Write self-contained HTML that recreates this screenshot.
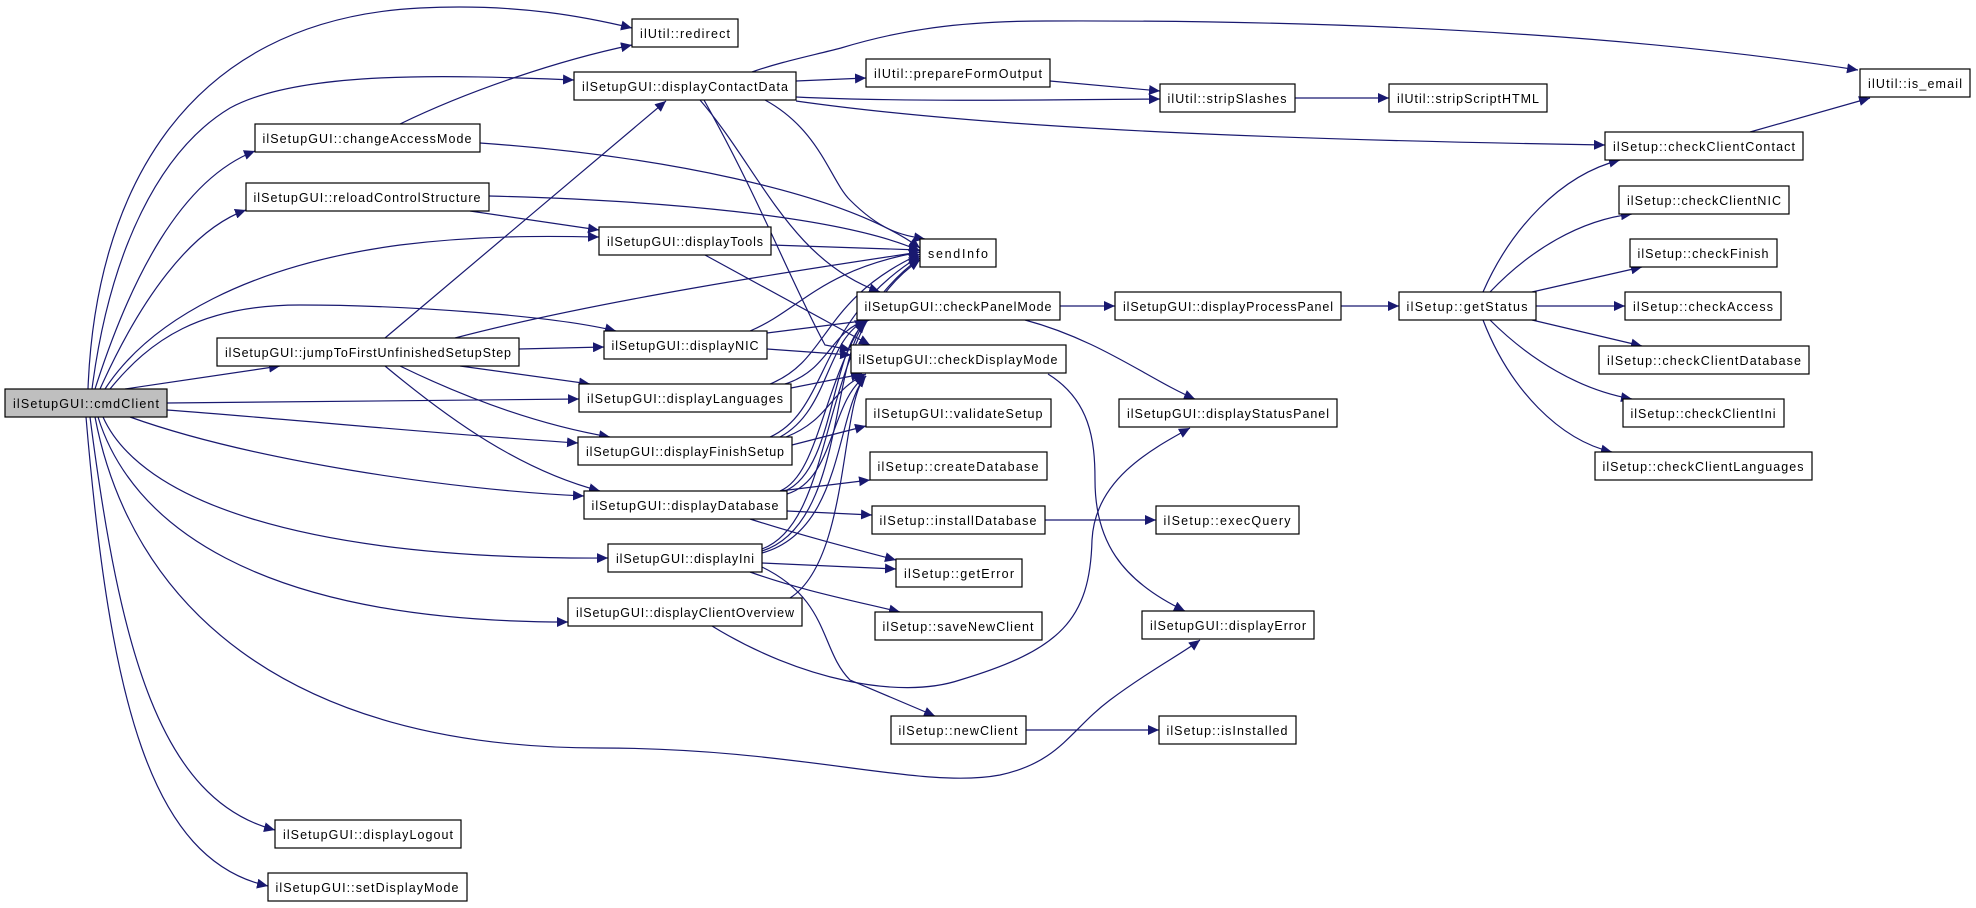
<!DOCTYPE html>
<html><head><meta charset="utf-8"><style>
html,body{margin:0;padding:0;background:#fff;}
svg{display:block;}
text{font-family:"Liberation Sans",sans-serif;font-size:12.5px;fill:#000;}
.n{fill:#fff;stroke:#000;stroke-width:1.2;}
path{fill:none;stroke:#191970;stroke-width:1.2;marker-end:url(#a);}
</style></head><body>
<svg width="1976" height="908" viewBox="0 0 1976 908" xmlns="http://www.w3.org/2000/svg">
<defs><marker id="a" markerUnits="userSpaceOnUse" markerWidth="12" markerHeight="10" refX="11" refY="5" orient="auto"><polygon points="0,0 11,5 0,10" fill="#191970"/></marker></defs>
<g>
<!-- cmdClient edges -->
<path d="M88,389 C95,200 180,20 420,8 C520,3 590,18 632,28"/>
<path d="M92,389 C110,250 160,150 230,108 C300,70 450,75 574,80"/>
<path d="M95,389 C130,280 180,180 255,151"/>
<path d="M100,389 C140,300 190,230 246,210"/>
<path d="M105,389 C150,320 250,265 400,245 C480,235 550,236 599,237"/>
<path d="M110,389 C150,340 200,305 300,305 C400,305 550,315 616,331"/>
<path d="M125,389 L280,366"/>
<path d="M167,403 L579,399"/>
<path d="M167,410 C300,420 450,435 578,443"/>
<path d="M130,417 C250,460 450,490 584,496"/>
<path d="M103,417 C140,500 300,560 608,558"/>
<path d="M98,417 C130,520 250,622 568,622"/>
<path d="M95,417 C130,600 280,748 600,748 C800,748 920,790 1000,775 C1060,762 1070,730 1110,700 C1150,670 1180,655 1200,640"/>
<path d="M90,417 C120,650 160,800 275,830"/>
<path d="M86,417 C110,700 150,860 268,886"/>
<!-- jumpToFirst -->
<path d="M385,338 L666,101"/>
<path d="M455,338 C600,300 800,270 920,252"/>
<path d="M519,349 L604,347"/>
<path d="M460,366 L590,384"/>
<path d="M400,366 C470,400 540,425 610,437"/>
<path d="M385,366 C450,420 520,470 600,491"/>
<!-- changeAccessMode / reload -->
<path d="M400,124 C470,90 560,60 632,45"/>
<path d="M480,143 C650,155 840,190 920,248"/>
<path d="M489,196 C650,200 840,215 920,251"/>
<path d="M470,211 L599,230"/>
<!-- displayContactData -->
<path d="M752,72 C780,62 810,56 841,48 C900,30 960,21 1046,21 C1300,20 1600,30 1858,70"/>
<path d="M796,81 L866,78"/>
<path d="M796,97 C900,102 1050,100 1160,99"/>
<path d="M796,101 C1000,130 1300,140 1605,145"/>
<path d="M765,100 C820,130 830,180 850,200 C880,230 900,235 925,239"/>
<path d="M700,100 C760,170 790,260 880,292"/>
<path d="M704,100 C760,200 790,280 825,345 L851,350"/>
<path d="M1050,81 L1160,91"/>
<path d="M1295,98 L1389,98"/>
<path d="M1750,132 L1870,98"/>
<!-- getStatus -->
<path d="M1483,292 C1510,230 1560,175 1620,160"/>
<path d="M1490,292 C1530,250 1580,220 1632,214"/>
<path d="M1532,292 L1642,267"/>
<path d="M1536,306 L1625,306"/>
<path d="M1532,320 L1642,346"/>
<path d="M1490,320 C1530,360 1580,390 1632,399"/>
<path d="M1483,320 C1510,390 1560,440 1612,452"/>
<!-- displayTools / NIC / Languages / Finish / Database / Ini -->
<path d="M771,245 L920,250"/>
<path d="M705,255 L870,345"/>
<path d="M750,331 C800,310 820,270 920,252"/>
<path d="M767,333 L870,320"/>
<path d="M767,349 L851,355"/>
<path d="M770,384 C830,360 820,300 920,254"/>
<path d="M785,384 C830,370 830,330 868,320"/>
<path d="M791,388 L862,374"/>
<path d="M770,437 C830,410 815,320 920,256"/>
<path d="M780,437 C830,410 825,340 866,320"/>
<path d="M786,437 C830,420 830,390 866,374"/>
<path d="M792,445 L866,426"/>
<path d="M780,491 C830,470 820,330 920,258"/>
<path d="M785,491 C835,470 830,350 866,322"/>
<path d="M787,494 C835,480 830,400 866,376"/>
<path d="M780,491 L870,480"/>
<path d="M787,511 L872,515"/>
<path d="M750,519 C800,535 850,548 896,560"/>
<path d="M762,549 C840,520 815,330 920,260"/>
<path d="M762,551 C845,525 830,360 866,322"/>
<path d="M762,553 C845,530 835,410 866,376"/>
<path d="M762,563 L896,569"/>
<path d="M750,572 C800,590 850,600 900,612"/>
<path d="M762,567 C830,600 820,650 850,680 L935,716"/>
<path d="M790,598 C850,560 840,400 866,376"/>
<!-- displayClientOverview -> displayStatusPanel -->
<path d="M712,626 C800,680 900,700 960,680 C1060,650 1090,620 1092,540 C1095,480 1150,450 1190,428"/>
<path d="M1060,306 L1115,306"/>
<path d="M1025,320 C1100,340 1150,380 1195,399"/>
<path d="M1048,374 C1090,400 1095,440 1095,480 C1095,540 1120,580 1185,611"/>
<path d="M1341,306 L1399,306"/>
<path d="M1045,520 L1156,520"/>
<path d="M1026,730 L1159,730"/>
</g>
<g>
<rect x="5" y="389" width="162" height="28" fill="#bfbfbf" stroke="#000" stroke-width="1.2"/><text x="86" y="408" text-anchor="middle" textLength="146">ilSetupGUI::cmdClient</text>
<rect class="n" x="632" y="19" width="106" height="28"/><text x="685" y="38" text-anchor="middle" textLength="90">ilUtil::redirect</text>
<rect class="n" x="574" y="72" width="222" height="28"/><text x="685" y="91" text-anchor="middle" textLength="206">ilSetupGUI::displayContactData</text>
<rect class="n" x="255" y="124" width="225" height="28"/><text x="367" y="143" text-anchor="middle" textLength="209">ilSetupGUI::changeAccessMode</text>
<rect class="n" x="246" y="183" width="243" height="28"/><text x="367" y="202" text-anchor="middle" textLength="227">ilSetupGUI::reloadControlStructure</text>
<rect class="n" x="599" y="227" width="172" height="28"/><text x="685" y="246" text-anchor="middle" textLength="156">ilSetupGUI::displayTools</text>
<rect class="n" x="217" y="338" width="302" height="28"/><text x="368" y="357" text-anchor="middle" textLength="286">ilSetupGUI::jumpToFirstUnfinishedSetupStep</text>
<rect class="n" x="604" y="331" width="163" height="28"/><text x="685" y="350" text-anchor="middle" textLength="147">ilSetupGUI::displayNIC</text>
<rect class="n" x="579" y="384" width="212" height="28"/><text x="685" y="403" text-anchor="middle" textLength="196">ilSetupGUI::displayLanguages</text>
<rect class="n" x="578" y="437" width="214" height="28"/><text x="685" y="456" text-anchor="middle" textLength="198">ilSetupGUI::displayFinishSetup</text>
<rect class="n" x="584" y="491" width="203" height="28"/><text x="685" y="510" text-anchor="middle" textLength="187">ilSetupGUI::displayDatabase</text>
<rect class="n" x="608" y="544" width="154" height="28"/><text x="685" y="563" text-anchor="middle" textLength="138">ilSetupGUI::displayIni</text>
<rect class="n" x="568" y="598" width="234" height="28"/><text x="685" y="617" text-anchor="middle" textLength="218">ilSetupGUI::displayClientOverview</text>
<rect class="n" x="275" y="820" width="186" height="28"/><text x="368" y="839" text-anchor="middle" textLength="170">ilSetupGUI::displayLogout</text>
<rect class="n" x="268" y="873" width="199" height="28"/><text x="367" y="892" text-anchor="middle" textLength="183">ilSetupGUI::setDisplayMode</text>
<rect class="n" x="866" y="59" width="184" height="28"/><text x="958" y="78" text-anchor="middle" textLength="168">ilUtil::prepareFormOutput</text>
<rect class="n" x="1160" y="84" width="135" height="28"/><text x="1227" y="103" text-anchor="middle" textLength="119">ilUtil::stripSlashes</text>
<rect class="n" x="920" y="239" width="76" height="28"/><text x="958" y="258" text-anchor="middle" textLength="60">sendInfo</text>
<rect class="n" x="857" y="292" width="203" height="28"/><text x="958" y="311" text-anchor="middle" textLength="187">ilSetupGUI::checkPanelMode</text>
<rect class="n" x="1115" y="292" width="226" height="28"/><text x="1228" y="311" text-anchor="middle" textLength="210">ilSetupGUI::displayProcessPanel</text>
<rect class="n" x="851" y="345" width="215" height="28"/><text x="958" y="364" text-anchor="middle" textLength="199">ilSetupGUI::checkDisplayMode</text>
<rect class="n" x="866" y="399" width="185" height="28"/><text x="958" y="418" text-anchor="middle" textLength="169">ilSetupGUI::validateSetup</text>
<rect class="n" x="1119" y="399" width="218" height="28"/><text x="1228" y="418" text-anchor="middle" textLength="202">ilSetupGUI::displayStatusPanel</text>
<rect class="n" x="870" y="452" width="177" height="28"/><text x="958" y="471" text-anchor="middle" textLength="161">ilSetup::createDatabase</text>
<rect class="n" x="872" y="506" width="173" height="28"/><text x="958" y="525" text-anchor="middle" textLength="157">ilSetup::installDatabase</text>
<rect class="n" x="896" y="559" width="126" height="28"/><text x="959" y="578" text-anchor="middle" textLength="110">ilSetup::getError</text>
<rect class="n" x="875" y="612" width="167" height="28"/><text x="958" y="631" text-anchor="middle" textLength="151">ilSetup::saveNewClient</text>
<rect class="n" x="891" y="716" width="135" height="28"/><text x="958" y="735" text-anchor="middle" textLength="119">ilSetup::newClient</text>
<rect class="n" x="1156" y="506" width="143" height="28"/><text x="1227" y="525" text-anchor="middle" textLength="127">ilSetup::execQuery</text>
<rect class="n" x="1142" y="611" width="172" height="28"/><text x="1228" y="630" text-anchor="middle" textLength="156">ilSetupGUI::displayError</text>
<rect class="n" x="1159" y="716" width="137" height="28"/><text x="1227" y="735" text-anchor="middle" textLength="121">ilSetup::isInstalled</text>
<rect class="n" x="1860" y="69" width="110" height="28"/><text x="1915" y="88" text-anchor="middle" textLength="94">ilUtil::is_email</text>
<rect class="n" x="1389" y="84" width="158" height="28"/><text x="1468" y="103" text-anchor="middle" textLength="142">ilUtil::stripScriptHTML</text>
<rect class="n" x="1605" y="132" width="198" height="28"/><text x="1704" y="151" text-anchor="middle" textLength="182">ilSetup::checkClientContact</text>
<rect class="n" x="1619" y="186" width="170" height="28"/><text x="1704" y="205" text-anchor="middle" textLength="154">ilSetup::checkClientNIC</text>
<rect class="n" x="1630" y="239" width="147" height="28"/><text x="1703" y="258" text-anchor="middle" textLength="131">ilSetup::checkFinish</text>
<rect class="n" x="1625" y="292" width="156" height="28"/><text x="1703" y="311" text-anchor="middle" textLength="140">ilSetup::checkAccess</text>
<rect class="n" x="1599" y="346" width="210" height="28"/><text x="1704" y="365" text-anchor="middle" textLength="194">ilSetup::checkClientDatabase</text>
<rect class="n" x="1623" y="399" width="161" height="28"/><text x="1703" y="418" text-anchor="middle" textLength="145">ilSetup::checkClientIni</text>
<rect class="n" x="1595" y="452" width="217" height="28"/><text x="1703" y="471" text-anchor="middle" textLength="201">ilSetup::checkClientLanguages</text>
<rect class="n" x="1399" y="292" width="137" height="28"/><text x="1467" y="311" text-anchor="middle" textLength="121">ilSetup::getStatus</text>
</g>
</svg>
</body></html>
